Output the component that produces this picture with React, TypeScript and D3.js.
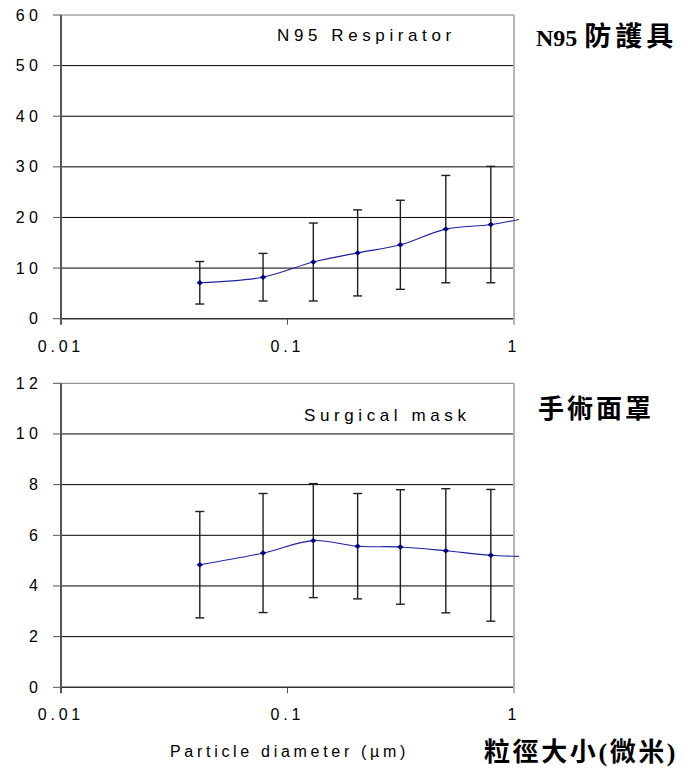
import React from "react";
import * as d3 from "d3";

// ---- data ----
const sizes = [0.041, 0.078, 0.13, 0.204, 0.315, 0.5, 0.79];
const tailSize = 1.25; // line continues past the last marker (clipped)
const n95Mean = [7.1, 8.2, 11.2, 13.0, 14.6, 17.7, 18.6];
const n95Sd = [4.2, 4.7, 7.7, 8.5, 8.8, 10.6, 11.5];
const n95Tail = 20.3;
const surgMean = [4.84, 5.3, 5.79, 5.57, 5.54, 5.39, 5.21];
const surgSd = [2.1, 2.35, 2.25, 2.08, 2.26, 2.45, 2.6];
const surgTail = 5.16;
const xTicks = [0.01, 0.1, 1];
const xTickLabels = ["0.01", "0.1", "1"];
const n95YTicks = [0, 10, 20, 30, 40, 50, 60];
const surgYTicks = [0, 2, 4, 6, 8, 10, 12];

const W = 683;
const H = 771;
const LEFT = 61;
const RIGHT = 514;
const SANS = "'Liberation Sans', Arial, sans-serif";
const CJK = "'Liberation Serif', 'Noto Sans CJK TC', serif";

type PanelProps = {
  id: string;
  top: number;
  bottom: number;
  yTicks: number[];
  mean: number[];
  sd: number[];
  tail: number;
  title: string;
  titleX: number;
  titleY: number;
};

function Panel({ id, top, bottom, yTicks, mean, sd, tail, title, titleX, titleY }: PanelProps) {
  const x = d3.scaleLog().domain([0.01, 1]).range([LEFT, RIGHT]);
  const yMax = yTicks[yTicks.length - 1];
  const y = d3.scaleLinear().domain([0, yMax]).range([bottom, top]);
  const pts: [number, number][] = sizes.map((s, i) => [x(s), y(mean[i])]);
  pts.push([x(tailSize), y(tail)]);
  const line = d3.line().curve(d3.curveCatmullRom.alpha(0.5))(pts) || "";
  const yls = 4.5;
  const xls = 3.8;
  return (
    <g>
      <defs>
        <clipPath id={id}>
          <rect x={LEFT - 10} y={top - 10} width={RIGHT - LEFT + 15} height={bottom - top + 20} />
        </clipPath>
      </defs>
      {yTicks.map((t, i) => (
        <line
          key={"g" + t}
          x1={LEFT}
          x2={RIGHT}
          y1={y(t)}
          y2={y(t)}
          stroke={i === yTicks.length - 1 ? "#7a7a7a" : i === 0 ? "#333" : "#000"}
          strokeWidth={i === 0 ? 1.5 : 1}
        />
      ))}
      {yTicks.map((t) => (
        <line key={"yt" + t} x1={LEFT - 8} x2={LEFT} y1={y(t)} y2={y(t)} stroke="#555" strokeWidth={1} />
      ))}
      <line x1={RIGHT} x2={RIGHT} y1={top} y2={bottom + 6} stroke="#b4b4b4" strokeWidth={2} />
      <line x1={LEFT} x2={LEFT} y1={top} y2={bottom + 6} stroke="#555" strokeWidth={2} />
      {xTicks.slice(1, 2).map((t) => (
        <line key={"xt" + t} x1={x(t)} x2={x(t)} y1={bottom} y2={bottom + 6} stroke="#555" strokeWidth={1} />
      ))}
      {yTicks.map((t) => (
        <text
          key={"yl" + t}
          x={38 + yls}
          y={y(t) + 5.5}
          textAnchor="end"
          fontFamily={SANS}
          fontSize={16}
          style={{ letterSpacing: yls + "px" }}
        >
          {String(t)}
        </text>
      ))}
      {xTicks.map((t, i) => (
        <text
          key={"xl" + t}
          x={x(t) - 2 + xls / 2}
          y={bottom + 33}
          textAnchor="middle"
          fontFamily={SANS}
          fontSize={16}
          style={{ letterSpacing: xls + "px" }}
        >
          {xTickLabels[i]}
        </text>
      ))}
      {sizes.map((s, i) => {
        const cx = x(s);
        const y1 = y(mean[i] + sd[i]);
        const y2 = y(mean[i] - sd[i]);
        return (
          <g key={"e" + i} stroke="#1e1e1e" strokeWidth={1.4}>
            <line x1={cx} x2={cx} y1={y1} y2={y2} />
            <line x1={cx - 4.5} x2={cx + 4.5} y1={y1} y2={y1} />
            <line x1={cx - 4.5} x2={cx + 4.5} y1={y2} y2={y2} />
          </g>
        );
      })}
      <g clipPath={`url(#${id})`}>
        <path d={line} fill="none" stroke="#2020a0" strokeWidth={1.1} />
      </g>
      {sizes.map((s, i) => {
        const cx = x(s);
        const cy = y(mean[i]);
        return (
          <path
            key={"m" + i}
            d={`M${cx - 3.2},${cy} L${cx},${cy - 2.7} L${cx + 3.2},${cy} L${cx},${cy + 2.7} Z`}
            fill="#000080"
          />
        );
      })}
      <text x={titleX} y={titleY} fontFamily={SANS} fontSize={17} style={{ letterSpacing: "4.6px" }}>
        {title}
      </text>
    </g>
  );
}

export default function App() {
  return (
    <svg
      width={W}
      height={H}
      viewBox={`0 0 ${W} ${H}`}
      style={{ position: "absolute", left: 0, top: 0, background: "#fff" }}
    >
      <rect width={W} height={H} fill="#fff" />
      <Panel
        id="clipTop"
        top={15}
        bottom={318.7}
        yTicks={n95YTicks}
        mean={n95Mean}
        sd={n95Sd}
        tail={n95Tail}
        title="N95 Respirator"
        titleX={277}
        titleY={41}
      />
      <Panel
        id="clipBot"
        top={383.3}
        bottom={687.3}
        yTicks={surgYTicks}
        mean={surgMean}
        sd={surgSd}
        tail={surgTail}
        title="Surgical mask"
        titleX={304}
        titleY={421}
      />
      <text x={536} y={46} fontFamily={CJK} fontWeight="bold" fill="#000">
        <tspan fontSize={24}>N95</tspan>
        <tspan fontSize={27} dx={7} style={{ letterSpacing: "4px" }}>防護具</tspan>
      </text>
      <text x={538} y={418} fontFamily={CJK} fontWeight="bold" fontSize={26} style={{ letterSpacing: "3px" }}>
        手術面罩
      </text>
      <text x={170} y={757} fontFamily={SANS} fontSize={16} style={{ letterSpacing: "3.7px" }}>
        Particle diameter (µm)
      </text>
      <text x={484} y={761} fontFamily={CJK} fontWeight="bold" fontSize={26} style={{ letterSpacing: "2.6px" }}>
        粒徑大小(微米)
      </text>
    </svg>
  );
}
